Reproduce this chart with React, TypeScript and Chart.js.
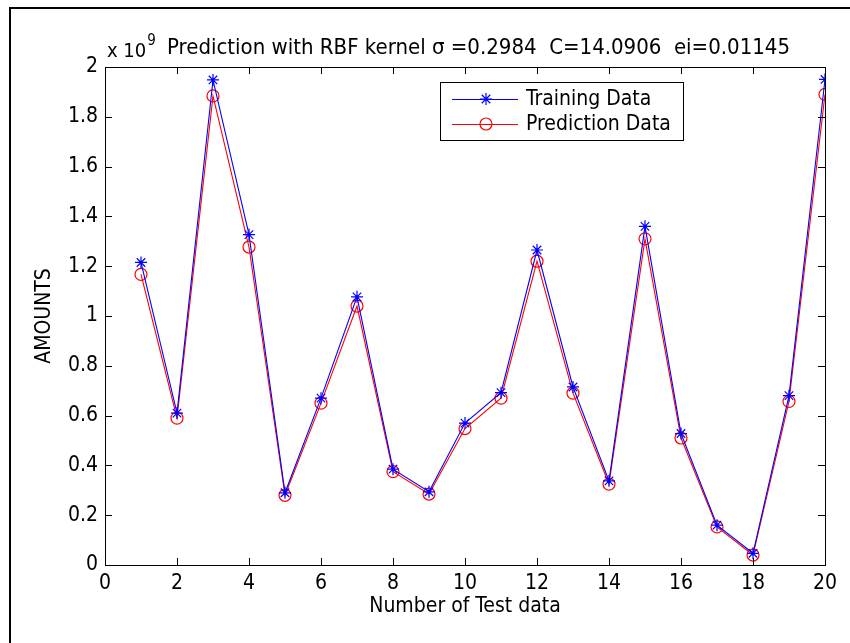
import { useEffect, useRef } from 'react';
import { Chart, registerables } from 'chart.js';

Chart.register(...registerables);

const testIndex = [1, 2, 3, 4, 5, 6, 7, 8, 9, 10, 11, 12, 13, 14, 15, 16, 17, 18, 19, 20];
const trainingData = [1.215, 0.61, 1.948, 1.327, 0.29, 0.67, 1.077, 0.385, 0.294, 0.57, 0.692, 1.265, 0.715, 0.338, 1.36, 0.528, 0.16, 0.047, 0.68, 1.95];
const predictionData = [1.167, 0.59, 1.884, 1.277, 0.28, 0.65, 1.04, 0.375, 0.285, 0.548, 0.67, 1.22, 0.69, 0.325, 1.31, 0.51, 0.153, 0.04, 0.657, 1.89];
const xTicks = [0, 2, 4, 6, 8, 10, 12, 14, 16, 18, 20];
const yTicks = [0, 0.2, 0.4, 0.6, 0.8, 1, 1.2, 1.4, 1.6, 1.8, 2];
const seriesNames = ['Training Data', 'Prediction Data'];
const titleText = 'Prediction with RBF kernel \u03C3 =0.2984  C=14.0906  ei=0.01145';
const xTitle = 'Number of Test data';
const yTitle = 'AMOUNTS';

const FONT = '"Liberation Sans Narrow", "DejaVu Sans Condensed", Arial, sans-serif';
const BLUE = '#0000ff';
const RED = '#ff0000';

function drawMarker(ctx: CanvasRenderingContext2D, style: string, x: number, y: number, r: number, color: string) {
  ctx.save();
  ctx.strokeStyle = color;
  ctx.lineWidth = 1.2;
  ctx.beginPath();
  if (style === 'star') {
    ctx.moveTo(x - r, y); ctx.lineTo(x + r, y);
    ctx.moveTo(x, y - r); ctx.lineTo(x, y + r);
    const d = r * 0.707;
    ctx.moveTo(x - d, y - d); ctx.lineTo(x + d, y + d);
    ctx.moveTo(x - d, y + d); ctx.lineTo(x + d, y - d);
  } else {
    ctx.arc(x, y, r, 0, Math.PI * 2);
  }
  ctx.stroke();
  ctx.restore();
}

const decorPlugin = {
  id: 'matlabDecor',
  afterDraw(chart: any) {
    const ctx = chart.ctx;
    const { left, right, top, bottom } = chart.chartArea;
    const xs = chart.scales.x;
    const ys = chart.scales.y;
    ctx.save();
    ctx.strokeStyle = '#000';
    ctx.lineWidth = 2;
    ctx.beginPath();
    ctx.moveTo(10, 643);
    ctx.lineTo(10, 8);
    ctx.lineTo(850, 8);
    ctx.stroke();

    ctx.lineWidth = 1;
    ctx.strokeStyle = '#000';
    ctx.strokeRect(Math.round(left) + 0.5, Math.round(top) + 0.5, Math.round(right - left), Math.round(bottom - top));

    const tl = 7;
    ctx.beginPath();
    xTicks.forEach((v) => {
      const px = Math.round(xs.getPixelForValue(v)) + 0.5;
      ctx.moveTo(px, bottom);
      ctx.lineTo(px, bottom - tl);
      ctx.moveTo(px, top);
      ctx.lineTo(px, top + tl);
    });
    yTicks.forEach((v) => {
      const py = Math.round(ys.getPixelForValue(v)) + 0.5;
      ctx.moveTo(left, py);
      ctx.lineTo(left + tl, py);
      ctx.moveTo(right, py);
      ctx.lineTo(right - tl, py);
    });
    ctx.stroke();

    ctx.fillStyle = '#000';
    ctx.textBaseline = 'alphabetic';
    ctx.font = `20px ${FONT}`;
    ctx.textAlign = 'left';
    ctx.fillText('x 10', left + 2, top - 10);
    const w10 = ctx.measureText('x 10').width;
    ctx.font = `15px ${FONT}`;
    ctx.fillText('9', left + 2 + w10 + 1, top - 22);
    ctx.font = `22px ${FONT}`;
    ctx.fillText(titleText, 167, top - 13);

    ctx.font = `21px ${FONT}`;
    ctx.textAlign = 'center';
    ctx.textBaseline = 'middle';
    ctx.fillText(xTitle, (left + right) / 2, bottom + 42);
    ctx.save();
    ctx.translate(left - 60, (top + bottom) / 2);
    ctx.rotate(-Math.PI / 2);
    ctx.fillText(yTitle, 0, 0);
    ctx.restore();

    const lx = 440, ly = 82, lw = 243, lh = 58;
    ctx.fillStyle = '#fff';
    ctx.fillRect(lx, ly, lw, lh);
    ctx.strokeStyle = '#000';
    ctx.lineWidth = 1;
    ctx.strokeRect(lx + 0.5, ly + 0.5, lw, lh);
    const rows = [
      { name: seriesNames[0], color: BLUE, style: 'star', y: ly + 17 },
      { name: seriesNames[1], color: RED, style: 'circle', y: ly + 42 },
    ];
    rows.forEach((r) => {
      ctx.strokeStyle = r.color;
      ctx.lineWidth = 1;
      ctx.beginPath();
      ctx.moveTo(lx + 12, r.y + 0.5);
      ctx.lineTo(lx + 78, r.y + 0.5);
      ctx.stroke();
      drawMarker(ctx, r.style, lx + 46, r.y, 6, r.color);
      ctx.fillStyle = '#000';
      ctx.font = `21px ${FONT}`;
      ctx.textAlign = 'left';
      ctx.textBaseline = 'middle';
      ctx.fillText(r.name, lx + 86, r.y + 1);
    });
    ctx.restore();
  },
};

export default function App() {
  const ref = useRef<HTMLCanvasElement | null>(null);
  useEffect(() => {
    const canvas = ref.current;
    if (!canvas) return;
    const chart = new Chart(canvas, {
      type: 'line',
      data: {
        datasets: [
          {
            label: seriesNames[0],
            data: testIndex.map((x, i) => ({ x, y: trainingData[i] })),
            borderColor: BLUE,
            backgroundColor: 'transparent',
            borderWidth: 1.1,
            pointStyle: 'star',
            pointRadius: 6,
            pointBorderWidth: 1.2,
            pointBorderColor: BLUE,
            tension: 0,
          },
          {
            label: seriesNames[1],
            data: testIndex.map((x, i) => ({ x, y: predictionData[i] })),
            borderColor: RED,
            backgroundColor: 'transparent',
            borderWidth: 1.1,
            pointStyle: 'circle',
            pointRadius: 6,
            pointBorderWidth: 1.2,
            pointBorderColor: RED,
            pointBackgroundColor: 'transparent',
            tension: 0,
          },
        ],
      },
      options: {
        responsive: false,
        animation: false,
        devicePixelRatio: 1,
        layout: { padding: { left: 0, right: 25, top: 67, bottom: 0 } },
        plugins: { legend: { display: false }, title: { display: false }, tooltip: { enabled: false } },
        scales: {
          x: {
            type: 'linear',
            min: 0,
            max: 20,
            afterFit: (s: any) => { s.height = 78; },
            afterBuildTicks: (s: any) => { s.ticks = xTicks.map((v) => ({ value: v })); },
            grid: { display: false, drawTicks: false },
            border: { display: false },
            ticks: { color: '#000', font: { family: FONT, size: 21 }, padding: 6, maxRotation: 0, callback: (v: any) => String(v) },
          },
          y: {
            type: 'linear',
            min: 0,
            max: 2,
            afterFit: (s: any) => { s.width = 105; },
            afterBuildTicks: (s: any) => { s.ticks = yTicks.map((v) => ({ value: v })); },
            grid: { display: false, drawTicks: false },
            border: { display: false },
            ticks: { color: '#000', font: { family: FONT, size: 21 }, padding: 7, callback: (v: any) => String(Number(Number(v).toFixed(1))) },
          },
        },
      },
      plugins: [decorPlugin],
    });
    return () => chart.destroy();
  }, []);
  return (
    <div style={{ position: 'fixed', left: 0, top: 0, width: 850, height: 643, background: '#fff' }}>
      <canvas ref={ref} width={850} height={643} style={{ width: 850, height: 643, display: 'block' }} />
    </div>
  );
}
